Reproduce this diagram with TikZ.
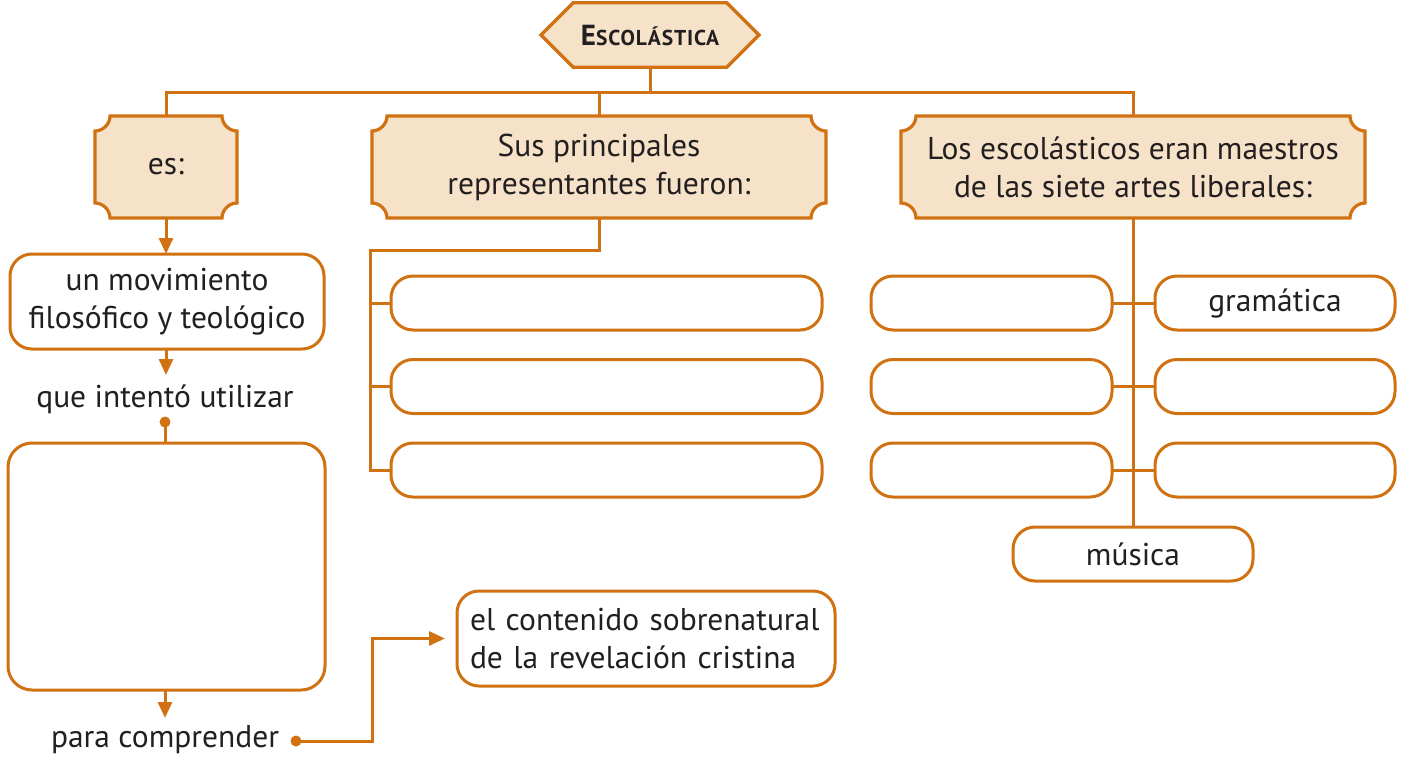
\documentclass[tikz,border=0pt]{standalone}
\usepackage{fontspec}
\setmainfont{PT Sans}
\usetikzlibrary{arrows.meta,shapes.misc,backgrounds,calc}
\definecolor{orn}{RGB}{208,114,18}
\definecolor{peach}{RGB}{245,226,201}
\definecolor{ink}{RGB}{35,31,32}
\newcommand\cavebox[1]{%
  \filldraw[cbox]
    ([xshift=15pt]#1.north west) -- ([xshift=-15pt]#1.north east)
    .. controls ([xshift=-15pt,yshift=-8pt]#1.north east) and ([xshift=-8pt,yshift=-15pt]#1.north east) .. ([yshift=-15pt]#1.north east)
    -- ([yshift=15pt]#1.south east)
    .. controls ([xshift=-8pt,yshift=15pt]#1.south east) and ([xshift=-15pt,yshift=8pt]#1.south east) .. ([xshift=-15pt]#1.south east)
    -- ([xshift=15pt]#1.south west)
    .. controls ([xshift=15pt,yshift=8pt]#1.south west) and ([xshift=8pt,yshift=15pt]#1.south west) .. ([yshift=15pt]#1.south west)
    -- ([yshift=-15pt]#1.north west)
    .. controls ([xshift=8pt,yshift=-15pt]#1.north west) and ([xshift=15pt,yshift=-8pt]#1.north west) .. ([xshift=15pt]#1.north west)
    -- cycle;}
\begin{document}
\begin{tikzpicture}[x=1pt,y=-1pt,
  every node/.style={text=ink,font=\fontsize{31.5}{38}\selectfont,inner sep=0pt,outer sep=0pt},
  line/.style={draw=orn,line width=3pt},
  arr/.style={line,-{Triangle[length=16pt,width=14pt]}},
  cbox/.style={draw=orn,fill=peach,line width=3.2pt},
  hold/.style={rectangle,align=center},
  rbox/.style={rectangle,draw=orn,line width=3pt,rounded corners=22pt,fill=white,align=center},
  octo/.style={chamfered rectangle,chamfered rectangle xsep=22pt,chamfered rectangle ysep=22pt,draw=orn,fill=peach,line width=3.2pt,minimum width=218pt,minimum height=60pt},
  dotc/.style={fill=orn}
]
\useasboundingbox (0,0) rectangle (1406,761);
% top node
\node[octo] (esc) at (650,35) {\bfseries{\fontsize{29}{29}\selectfont E}{\addfontfeature{LetterSpace=4}\fontsize{21.5}{29}\selectfont SCOLÁSTICA}};
% second level (concave boxes)
\node[hold,minimum width=142pt,minimum height=102pt] (es) at (166,167) {es:};
\node[hold,minimum width=454pt,minimum height=102pt] (sus) at (599,167) {Sus principales\\representantes fueron:};
\node[hold,minimum width=464pt,minimum height=102pt] (los) at (1133,167) {Los escolásticos eran maestros\\de las siete artes liberales:};
\begin{scope}[on background layer]
  \cavebox{es}
  \cavebox{sus}
  \cavebox{los}
\end{scope}
% top connectors
\coordinate (top) at (650,92);
\draw[line] (esc.south) -- (top);
\draw[line] (es.north) |- (top) -| (los.north);
\draw[line] (sus.north) -- (sus.north |- top);
% left column
\node[rbox,minimum width=314pt,minimum height=95pt] (mov) at (167,301.5) {un movimiento\\filosófico y teológico};
\node (que) at (165,399) {que intentó utilizar};
\coordinate (d1) at (165,422);
\node[rbox,minimum width=317pt,minimum height=247pt,rounded corners=24pt] (big) at (166.5,566.5) {};
\node (para) at (165,740) {para comprender};
\coordinate (d2) at (296,741);
\coordinate (bend) at (372,741);
\node[rbox,minimum width=378pt,minimum height=95pt,align=left,text width=352pt] (cont) at (646,638.5) {el contenido sobrenatural\\de la revelación cristina};
\draw[arr] (es.south) -- (es.south |- mov.north);
\draw[arr] (es.south |- mov.south) -- (es.south |- 0,375);
\draw[line] (d1) -- (d1 |- big.north);
\fill[dotc] (d1) circle (5.5pt);
\draw[arr] (d1 |- big.south) -- (d1 |- 0,718);
\draw[arr,shorten >=12pt] (d2) -- (bend) |- (cont.west);
\fill[dotc] (d2) circle (5.5pt);
% representatives
\node[rbox,minimum width=431pt,minimum height=54pt] (s1) at (606.5,303) {};
\node[rbox,minimum width=431pt,minimum height=54pt] (s2) at (606.5,386.5) {};
\node[rbox,minimum width=431pt,minimum height=54pt] (s3) at (606.5,470) {};
\coordinate (sv) at (370,250);
\draw[line] (sus.south) |- (sv) |- (s3.west);
\draw[line] (sv |- s1.west) -- (s1.west);
\draw[line] (sv |- s2.west) -- (s2.west);
% liberal arts
\node[rbox,minimum width=241pt,minimum height=54pt] (l1) at (991.5,303) {};
\node[rbox,minimum width=241pt,minimum height=54pt] (l2) at (991.5,386.5) {};
\node[rbox,minimum width=241pt,minimum height=54pt] (l3) at (991.5,470) {};
\node[rbox,minimum width=240pt,minimum height=54pt] (r1) at (1275,303) {gramática};
\node[rbox,minimum width=240pt,minimum height=54pt] (r2) at (1275,386.5) {};
\node[rbox,minimum width=240pt,minimum height=54pt] (r3) at (1275,470) {};
\node[rbox,minimum width=240pt,minimum height=54pt] (mus) at (1133,554) {música};
\begin{scope}[on background layer]
  \draw[line] (los.south) -- (mus.north);
  \draw[line] (l1.east) -- (r1.west);
  \draw[line] (l2.east) -- (r2.west);
  \draw[line] (l3.east) -- (r3.west);
\end{scope}
\end{tikzpicture}
\end{document}
